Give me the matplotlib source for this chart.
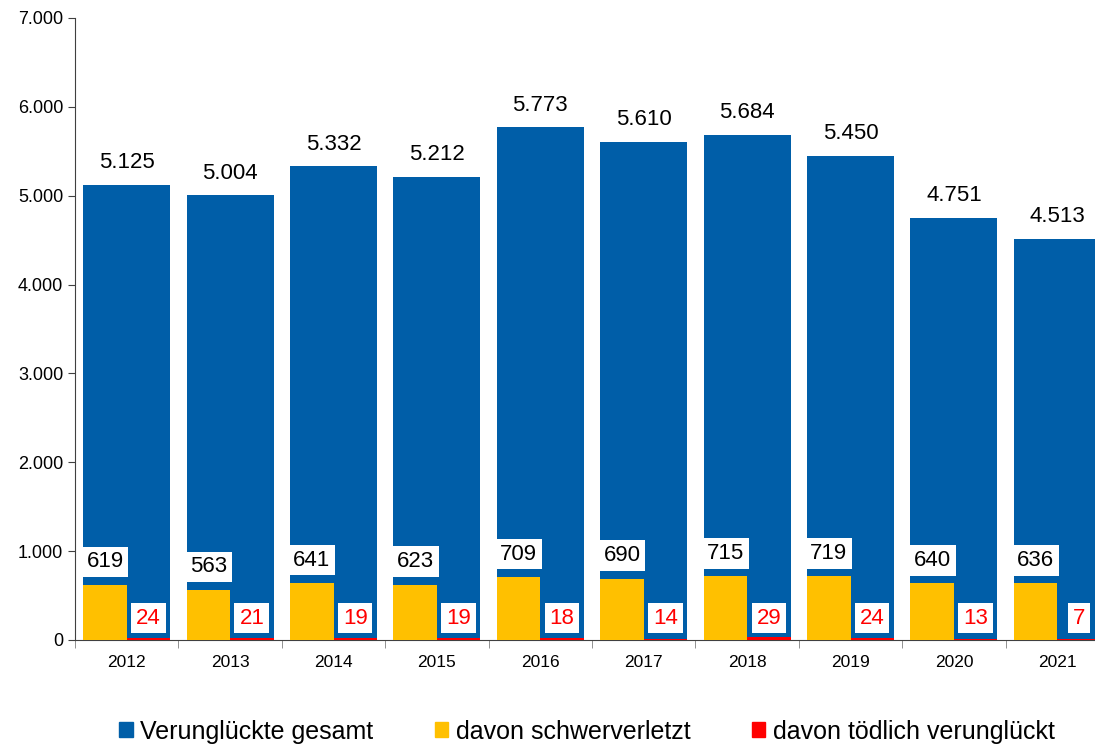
import numpy as np
import matplotlib.pyplot as plt
from matplotlib.ticker import FuncFormatter
from matplotlib.patches import Patch

plt.rcParams['font.family'] = ['Liberation Sans', 'DejaVu Sans']

# Data
years = ["2012", "2013", "2014", "2015", "2016", "2017", "2018", "2019", "2020", "2021"]
gesamt = [5125, 5004, 5332, 5212, 5773, 5610, 5684, 5450, 4751, 4513]
schwer = [619, 563, 641, 623, 709, 690, 715, 719, 640, 636]
toedlich = [24, 21, 19, 19, 18, 14, 29, 24, 13, 7]

blue = "#005ea8"
yellow = "#ffc000"
red = "#ff0000"


def fmt(v):
    return f"{v:,.0f}".replace(",", ".")


fig = plt.figure(figsize=(10.95, 7.45), dpi=100)
# axes extends slightly past the right edge, like the reference
ax = fig.add_axes([75 / 1095, 105 / 745, 1034 / 1095, 622 / 745])

x = np.arange(len(years))
w = 0.84
ax.bar(x, gesamt, w, color=blue, zorder=2)
ax.bar(x - w / 4, schwer, w / 2, color=yellow, zorder=3)
ax.bar(x + w / 4, toedlich, w / 2, color=red, zorder=3)

box = dict(facecolor="white", edgecolor="none", pad=3.5)
for i in range(len(years)):
    ax.annotate(fmt(gesamt[i]), (x[i], gesamt[i]), xytext=(0, 22), textcoords="offset pixels",
                ha="center", va="center", fontsize=16, zorder=5)
    ax.annotate(fmt(schwer[i]), (x[i] - w / 4, schwer[i]), xytext=(0, 23), textcoords="offset pixels",
                ha="center", va="center", fontsize=16, bbox=box, zorder=5)
    ax.annotate(fmt(toedlich[i]), (x[i] + w / 4, 0), xytext=(0, 22), textcoords="offset pixels",
                ha="center", va="center", fontsize=16, color=red, bbox=box, zorder=5)

ax.set_xlim(-0.5, len(years) - 0.5)
ax.set_ylim(0, 7000)
ax.set_yticks(range(0, 7001, 1000))
ax.yaxis.set_major_formatter(FuncFormatter(lambda v, p: fmt(v)))
ax.set_xticks(x)
ax.set_xticklabels(years, fontsize=12.5)
ax.set_xticks(np.arange(-0.5, len(years), 1), minor=True)
ax.tick_params(axis="x", which="major", length=0, pad=11)
ax.tick_params(axis="x", which="minor", length=6, direction="out", color="#808080")
ax.tick_params(axis="y", labelsize=13, length=5, color="#404040")

for s in ["top", "right"]:
    ax.spines[s].set_visible(False)
ax.spines["left"].set_color("#404040")
ax.spines["bottom"].set_color("#404040")

handles = [Patch(color=blue, label="Verunglückte gesamt"),
           Patch(color=yellow, label="davon schwerverletzt"),
           Patch(color=red, label="davon tödlich verunglückt")]
fig.legend(handles=handles, loc="center", bbox_to_anchor=(0.536, 0.018), ncol=3, frameon=False,
           fontsize=18, handlelength=0.55, handleheight=0.55, handletextpad=0.3, columnspacing=2.45)

fig.savefig("out.png", dpi=100)
